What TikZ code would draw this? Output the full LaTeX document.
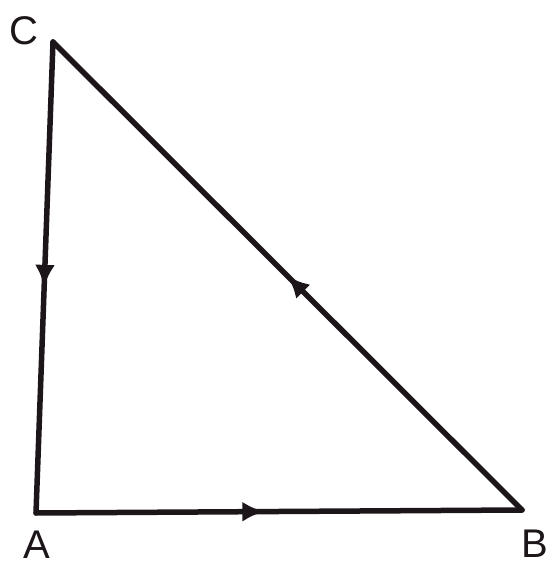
\documentclass[tikz,border=0pt]{standalone}
\usepackage{fontspec}
\setmainfont{Liberation Sans}
\usetikzlibrary{decorations.markings,arrows.meta}
\definecolor{ink}{HTML}{1C161A}
\tikzset{
  side/.style={draw=ink, line width=5.5pt, line cap=round, line join=round},
  midarrow/.style={postaction={decorate,decoration={markings,
     mark=at position #1 with {\arrow{Latex[length=22pt,width=20pt]}}}}},
  lbl/.style={font=\fontsize{40}{40}\selectfont, text=ink, inner sep=0pt}
}
\begin{document}
\begin{tikzpicture}[x=1pt,y=1pt]
\useasboundingbox (0,0) rectangle (549,569);
\coordinate (C) at (53,527);
\coordinate (A) at (36,56);
\coordinate (B) at (522,59);
\draw[side, midarrow=0.52, color=ink] (C) -- (A);
\draw[side, midarrow=0.47, color=ink] (A) -- (B);
\draw[side, midarrow=0.5, color=ink] (B) -- (C);
\node[lbl] (lC) at (24,538) {C};
\node[lbl] (lA) at (37,24) {A};
\node[lbl] (lB) at (535,25) {B};
\end{tikzpicture}
\end{document}
